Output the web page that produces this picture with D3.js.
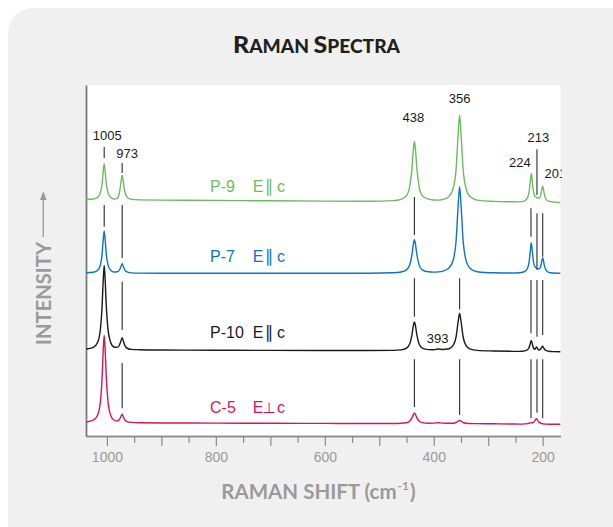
<!DOCTYPE html>
<html><head><meta charset="utf-8">
<script src="https://cdn.jsdelivr.net/npm/d3@7"></script>
<style>html,body{margin:0;padding:0;background:#fff;} svg{display:block;}</style>
</head><body><svg id="chart" width="613" height="527"></svg>
<script>
// ---------- DATA ----------
// Raman shift grid (cm-1), left to right
const shifts = [
  1038, 1025, 1017, 1012, 1009, 1007, 1005, 1003, 1001, 998, 993, 987, 981, 977, 974.5, 972, 969.5, 967, 962, 955, 940, 900, 800, 700, 600, 520,
  475, 460, 450, 444, 440, 437.5, 435.5, 433.5, 431, 427, 421, 410, 400, 392, 384, 372, 364, 359, 355, 352.5, 350, 346, 341, 333, 320, 290, 260,
  242, 233, 228, 225, 223, 221, 219, 217, 214, 211.5, 209, 206, 203, 201.5, 200, 198.5, 197, 194, 189, 180, 167
];
// Stacked intensities (arbitrary units, offset per spectrum)
const p9 = [
  236.5, 237.0, 238.6, 243.2, 251.6, 263.2, 272.2, 263.3, 251.8, 243.4, 238.6, 237.0, 237.6, 243.6, 252.5, 260.8, 252.5, 244.0, 238.2, 236.6, 236.1, 235.9, 235.6, 235.2, 234.9, 234.8,
  235.4, 236.7, 240.2, 249.8, 267.8, 286.3, 294.6, 286.3, 267.9, 249.9, 240.4, 236.8, 236.0, 235.9, 236.4, 239.6, 248.3, 266.8, 303.5, 320.7, 303.3, 266.5, 248.0, 239.2, 235.9, 234.6, 234.2,
  234.1, 235.2, 238.1, 244.1, 253.5, 262.5, 253.9, 244.8, 239.6, 238.9, 237.8, 238.2, 242.2, 246.8, 249.9, 246.6, 241.8, 237.0, 234.8, 233.9, 233.5
];
const p7 = [
  163.2, 163.8, 165.8, 171.0, 181.0, 194.6, 205.1, 194.7, 181.2, 171.2, 165.8, 164.0, 164.2, 166.0, 169.1, 172.2, 169.1, 165.9, 163.8, 163.1, 162.9, 162.8, 162.7, 162.7, 162.7, 162.8,
  163.3, 164.0, 166.1, 171.2, 181.4, 191.7, 196.3, 191.7, 181.5, 171.4, 166.2, 164.2, 163.9, 164.1, 164.7, 167.9, 176.5, 195.0, 232.1, 249.4, 232.0, 194.9, 176.3, 167.6, 164.3, 163.2, 163.0,
  163.3, 164.5, 167.5, 173.8, 183.7, 193.2, 184.1, 174.5, 169.2, 168.2, 167.2, 167.4, 171.0, 175.4, 178.3, 175.2, 170.6, 166.0, 163.7, 163.0, 162.7
];
const p10 = [
  87.0, 88.6, 93.8, 106.5, 128.2, 153.4, 170.5, 153.5, 128.3, 106.6, 93.6, 89.0, 88.6, 91.0, 94.6, 98.3, 94.3, 90.4, 87.5, 86.6, 86.3, 86.0, 85.8, 85.6, 85.5, 85.5,
  85.6, 86.1, 87.8, 92.2, 101.1, 110.1, 114.1, 110.1, 101.1, 92.3, 87.9, 86.4, 86.3, 87.0, 86.5, 87.3, 90.8, 99.1, 115.1, 122.6, 115.0, 99.0, 90.6, 86.9, 85.6, 85.0, 84.7,
  84.6, 85.1, 86.2, 88.5, 92.0, 95.5, 92.0, 88.0, 86.8, 89.0, 87.0, 86.0, 87.5, 89.0, 89.7, 88.5, 87.0, 85.5, 84.8, 84.4, 84.3
];
const c5 = [
  14.0, 15.8, 21.0, 34.0, 56.6, 83.0, 100.7, 83.2, 56.9, 34.5, 20.6, 16.0, 15.0, 16.6, 19.2, 21.8, 19.0, 16.0, 14.2, 13.6, 13.2, 13.0, 12.9, 12.7, 12.6, 12.5,
  12.5, 12.7, 13.3, 15.0, 18.1, 21.4, 23.0, 21.4, 18.1, 15.0, 13.4, 12.8, 12.9, 13.3, 12.9, 12.7, 12.8, 13.5, 14.9, 15.5, 14.9, 13.5, 12.8, 12.5, 12.4, 12.2, 12.0,
  11.9, 12.1, 12.4, 12.8, 13.1, 13.2, 13.2, 13.6, 15.4, 17.3, 15.4, 13.6, 12.7, 12.4, 12.2, 12.1, 12.0, 11.9, 11.8, 11.8, 11.7
];
const seriesNames = ["P-9", "P-7", "P-10", "C-5"];
const polarSymbols = ["\u2225", "\u2225", "\u2225", "\u22A5"];
const seriesColors = ["#69bd5c", "#0b74c6", "#1a1a1a", "#d6145a"];

// Peak marker positions (cm-1, as drawn) and their labels
const markerShifts = [1005, 972, 435.5, 352.5, 221.5, 210.5, 200];
const peakLabels = ["1005", "973", "438", "356", "224", "213", "201"];
const extraLabel = "393";
// Marker segments: [marker index, intensity from, intensity to]
const markerSegments = [
  [0, 289, 278], [1, 273, 263], [5, 286.7, 241],
  [0, 231, 209.3], [1, 231, 178], [2, 239, 201], [4, 227.7, 199.3], [5, 222.7, 166], [6, 222.7, 179.3],
  [1, 154.3, 106], [2, 157.7, 119.3], [3, 157.7, 126.5], [4, 156, 102.7], [5, 156, 99.3], [6, 156, 101],
  [1, 73, 27.7], [2, 76.7, 29], [3, 76.7, 21], [4, 76.7, 17.7], [5, 76.7, 23.3], [6, 76.7, 17.7]
];
const xTicksLong = [1000, 900, 800, 700, 600, 500, 400, 300, 200];
const xTicksShort = [950, 850, 750, 650, 550, 450, 350, 250];
const xTickLabels = ["1000", "800", "600", "400", "200"];

// ---------- LAYOUT ----------
const plot = {left: 86, right: 560.5, top: 85, bottom: 436};
const numFont = "'Liberation Sans', Arial, Helvetica, sans-serif";
const titleFont = "Lato, 'Open Sans', sans-serif";

const svg = d3.select("#chart");
svg.append("rect").attr("x", 8).attr("y", 8).attr("width", 700).attr("height", 600)
  .attr("rx", 25).attr("fill", "#f0f0f0");
svg.append("rect").attr("x", plot.left).attr("y", plot.top)
  .attr("width", plot.right - plot.left).attr("height", plot.bottom - plot.top).attr("fill", "#fff");

const defs = svg.append("defs");
defs.append("clipPath").attr("id", "plotclip").append("rect")
  .attr("x", plot.left).attr("y", plot.top - 40)
  .attr("width", plot.right - plot.left).attr("height", plot.bottom - plot.top + 40);
defs.append("clipPath").attr("id", "labelclip").append("rect")
  .attr("x", plot.left).attr("y", plot.top - 40)
  .attr("width", plot.right - plot.left + 1.5).attr("height", plot.bottom - plot.top + 40);

const x = d3.scaleLinear().domain([1038.4, 167.3]).range([plot.left, plot.right]);
const y = d3.scaleLinear().domain([0, 351]).range([plot.bottom, plot.top]);

// Title
const title = svg.append("text").attr("x", 316.5).attr("y", 53).attr("text-anchor", "middle")
  .attr("font-family", titleFont).attr("font-weight", 900).attr("fill", "#231f20")
  .attr("textLength", 167).attr("lengthAdjust", "spacingAndGlyphs");
[["R", 23.5], ["AMAN ", 18], ["S", 23.5], ["PECTRA", 18]].forEach(([t, s]) =>
  title.append("tspan").attr("font-size", s).text(t));

// Axes
const gx = svg.append("g").attr("transform", `translate(0,${plot.bottom})`);
gx.call(d3.axisBottom(x).tickValues(xTicksShort).tickSize(7).tickSizeOuter(0).tickFormat(""));
const gx2 = svg.append("g").attr("transform", `translate(0,${plot.bottom})`);
gx2.call(d3.axisBottom(x).tickValues(xTicksLong).tickSize(10).tickSizeOuter(0).tickPadding(6)
  .tickFormat(d => xTickLabels.includes(String(d)) ? String(d) : ""));
[gx, gx2].forEach(g => {
  g.selectAll("line").attr("stroke", "#8a8a8a").attr("stroke-width", 1.2);
  g.select(".domain").attr("stroke", "#8a8a8a").attr("stroke-width", 1.5);
  g.selectAll("text").attr("font-family", numFont).attr("font-size", 14).attr("fill", "#9a9a9a");
});
const gy = svg.append("g").attr("transform", `translate(${plot.left},0)`);
gy.call(d3.axisLeft(y).tickValues([]).tickSizeOuter(0));
gy.select(".domain").attr("stroke", "#7a7a7a").attr("stroke-width", 1.8);

// Axis titles
const xt = svg.append("text").attr("x", 318.5).attr("y", 498.7).attr("text-anchor", "middle")
  .attr("font-family", titleFont).attr("font-weight", 700).attr("font-size", 20.5).attr("fill", "#9a9a9a");
xt.append("tspan").text("RAMAN SHIFT (cm");
xt.append("tspan").attr("font-size", 12).attr("dx", 1).attr("dy", -9).text("-1");
xt.append("tspan").attr("dx", 1).attr("dy", 9).text(")");

svg.append("text").attr("transform", "translate(51,293.5) rotate(-90)").attr("text-anchor", "middle")
  .attr("font-family", titleFont).attr("font-weight", 700).attr("font-size", 21).attr("fill", "#9a9a9a")
  .attr("textLength", 103).attr("lengthAdjust", "spacingAndGlyphs").text("INTENSITY");
svg.append("line").attr("x1", 43.3).attr("x2", 43.3).attr("y1", 237).attr("y2", 196)
  .attr("stroke", "#9a9a9a").attr("stroke-width", 1.3);
svg.append("path").attr("d", "M43.3,191 L40,200 L46.6,200 Z").attr("fill", "#9a9a9a");

// Plot content (clipped)
const g = svg.append("g").attr("clip-path", "url(#plotclip)");

g.selectAll("line.marker").data(markerSegments).join("line").attr("class", "marker")
  .attr("x1", d => x(markerShifts[d[0]])).attr("x2", d => x(markerShifts[d[0]]))
  .attr("y1", d => y(d[1])).attr("y2", d => y(d[2]))
  .attr("stroke", "#2a2a2a").attr("stroke-width", 1.1);

const series = [p9, p7, p10, c5];
const line = d3.line().x((d, i) => x(shifts[i])).y(d => y(d)).curve(d3.curveMonotoneX);
series.forEach((s, k) => {
  g.append("path").attr("d", line(s)).attr("fill", "none")
    .attr("stroke", seriesColors[k]).attr("stroke-width", 1.4).attr("stroke-linejoin", "round");
});

// Peak labels (pixel offsets relative to marker)
const gl = svg.append("g").attr("clip-path", "url(#labelclip)");
const labelLayout = [
  {dx: 3, y: 140, anchor: "middle"}, {dx: 5, y: 158.3, anchor: "middle"},
  {dx: -1, y: 121.7, anchor: "middle"}, {dx: 0, y: 102.7, anchor: "middle"},
  {dx: -11, y: 166.7, anchor: "middle"}, {dx: 1.5, y: 142.3, anchor: "middle"},
  {dx: 1.8, y: 178.3, anchor: "start"}
];
peakLabels.forEach((t, i) => {
  gl.append("text").attr("x", x(markerShifts[i]) + labelLayout[i].dx).attr("y", labelLayout[i].y)
    .attr("text-anchor", labelLayout[i].anchor).attr("font-family", numFont).attr("font-size", 13)
    .attr("fill", "#1a1a1a").text(t);
});
gl.append("text").attr("x", x(392) - 0.5).attr("y", 343.3).attr("text-anchor", "middle")
  .attr("font-family", numFont).attr("font-size", 13).attr("fill", "#1a1a1a").text(extraLabel);

// Series labels
const seriesBaselines = [191.7, 261.7, 338.3, 413.3];
seriesNames.forEach((n, k) => {
  const t = gl.append("text").attr("y", seriesBaselines[k]).attr("font-family", numFont)
    .attr("font-size", 16).attr("fill", seriesColors[k]);
  t.append("tspan").attr("x", 210).text(n);
  t.append("tspan").attr("x", 252.7).text("E");
  t.append("tspan").attr("x", polarSymbols[k] === "\u2225" ? 265 : 262.5)
    .attr("font-family", "'DejaVu Sans', sans-serif").attr("font-size", polarSymbols[k] === "\u2225" ? 17 : 15)
    .text(polarSymbols[k]);
  t.append("tspan").attr("x", 277).text("c");
});
</script>
</body></html>
